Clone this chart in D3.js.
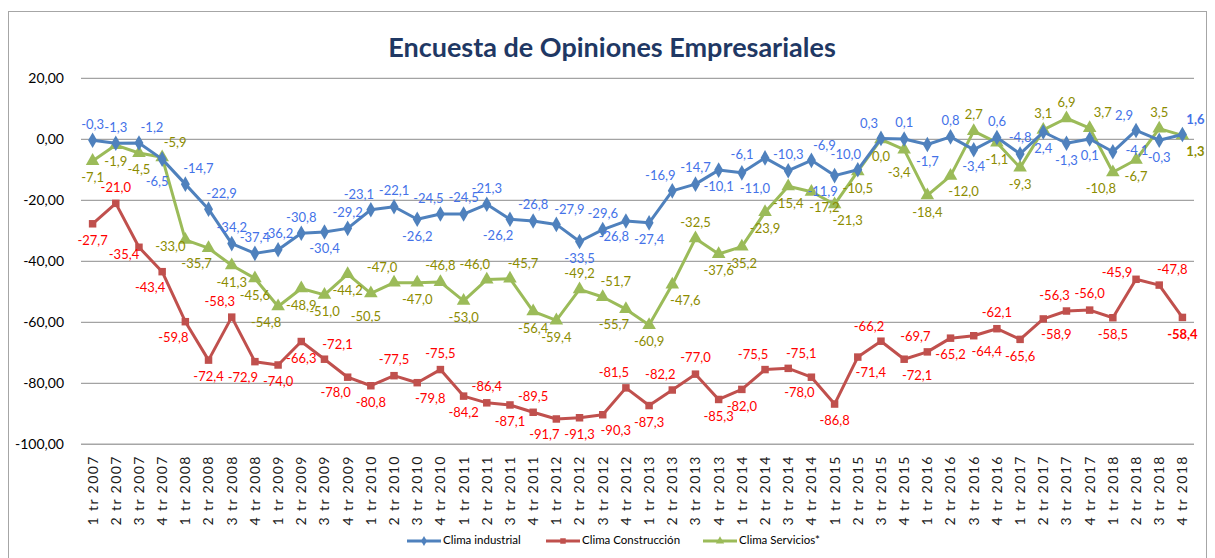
<!DOCTYPE html>
<html>
<head>
<meta charset="utf-8">
<script src="https://cdn.jsdelivr.net/npm/d3@7"></script>
<style>
  body { margin: 0; background: #fff; }
  text { font-family: Lato, "Open Sans", sans-serif; }
</style>
</head>
<body>
<div id="chart"></div>
<script>
// quarters 1 tr 2007 .. 4 tr 2018
const years = [2007, 2008, 2009, 2010, 2011, 2012, 2013, 2014, 2015, 2016, 2017, 2018];
const quarters = [];
years.forEach((y) => [1, 2, 3, 4].forEach((q) => quarters.push(q + ' tr ' + y)));

const climaIndustrial = [
  -0.3, -1.3, -1.2, -6.5, -14.7, -22.9, -34.2, -37.4, -36.2, -30.8, -30.4, -29.2,
  -23.1, -22.1, -26.2, -24.5, -24.5, -21.3, -26.2, -26.8, -27.9, -33.5, -29.6, -26.8,
  -27.4, -16.9, -14.7, -10.1, -11.0, -6.1, -10.3, -6.9, -11.9, -10.0, 0.3, 0.1,
  -1.7, 0.8, -3.4, 0.6, -4.8, 2.4, -1.3, 0.1, -4.1, 2.9, -0.3, 1.6
];
const climaConstruccion = [
  -27.7, -21.0, -35.4, -43.4, -59.8, -72.4, -58.3, -72.9, -74.0, -66.3, -72.1, -78.0,
  -80.8, -77.5, -79.8, -75.5, -84.2, -86.4, -87.1, -89.5, -91.7, -91.3, -90.3, -81.5,
  -87.3, -82.2, -77.0, -85.3, -82.0, -75.5, -75.1, -78.0, -86.8, -71.4, -66.2, -72.1,
  -69.7, -65.2, -64.4, -62.1, -65.6, -58.9, -56.3, -56.0, -58.5, -45.9, -47.8, -58.4
];
const climaServicios = [
  -7.1, -1.9, -4.5, -5.9, -33.0, -35.7, -41.3, -45.6, -54.8, -48.9, -51.0, -44.2,
  -50.5, -47.0, -47.0, -46.8, -53.0, -46.0, -45.7, -56.4, -59.4, -49.2, -51.7, -55.7,
  -60.9, -47.6, -32.5, -37.6, -35.2, -23.9, -15.4, -17.2, -21.3, -10.5, 0.0, -3.4,
  -18.4, -12.0, 2.7, -1.1, -9.3, 3.1, 6.9, 3.7, -10.8, -6.7, 3.5, 1.3
];
const yTicks = [20, 0, -20, -40, -60, -80, -100];

// where each data label sits around its point
const posIndustrial = 'a a ar bb ar ar a a a a b a al a b al a a bl a ar b a bl b al a b br l a ar bl al al a b a b a a b b b r al b ar'.split(' ');
const posConstruccion = 'b a lb bl bl b al bl b b ar bl b a br a b a b a bl b br al b al a b b al ar bl b br al br al b br a b br al a b L ar b'.split(' ');
const posServicios = 'b b b ar lb bl b b bl b b b bb al b a b al ar b b a ar bl b br a b b b b br br b b bb b br a b b a a ar bl b a br'.split(' ');

const series = [
  { name: 'Clima industrial', values: climaIndustrial, pos: posIndustrial, line: '#4F81BD', label: '#4472E8', marker: 'diamond' },
  { name: 'Clima Construcción', values: climaConstruccion, pos: posConstruccion, line: '#C0504D', label: '#FF0000', marker: 'square' },
  { name: 'Clima Servicios*', values: climaServicios, pos: posServicios, line: '#9BBB59', label: '#8C8C00', marker: 'triangle' }
];

const width = 1215;
const height = 558;
const margin = { top: 78.3, right: 21, bottom: 113.7, left: 81 };

const svg = d3.select('#chart')
  .append('svg')
  .attr('width', width)
  .attr('height', height);

// chart border
svg.append('rect')
  .attr('x', 8.5).attr('y', 11.5)
  .attr('width', 1198).attr('height', 560)
  .attr('fill', 'none')
  .attr('stroke', '#A6A6A6')
  .attr('stroke-width', 1);

svg.append('text')
  .attr('x', 612).attr('y', 57)
  .attr('text-anchor', 'middle')
  .attr('font-size', 27)
  .attr('font-weight', 'bold')
  .attr('fill', '#1F3864')
  .text('Encuesta de Opiniones Empresariales');

const x = d3.scaleBand()
  .domain(quarters)
  .range([margin.left, width - margin.right]);

const y = d3.scaleLinear()
  .domain([-100, 20])
  .range([height - margin.bottom, margin.top]);

const fmt = (v) => d3.format('.2f')(v).replace('.', ',').replace('−', '-');
const fmtLabel = (v) => d3.format('.1f')(v).replace('.', ',').replace('−', '-');

// gridlines
svg.append('g')
  .selectAll('line')
  .data(yTicks)
  .enter()
  .append('line')
  .attr('x1', margin.left)
  .attr('x2', width - margin.right)
  .attr('y1', (d) => y(d))
  .attr('y2', (d) => y(d))
  .attr('stroke', (d) => (d === -100 ? '#A6A6A6' : '#8C8C8C'))
  .attr('stroke-width', (d) => (d === -100 ? 1.5 : 1));

// y axis labels
const yAxis = svg.append('g')
  .attr('transform', `translate(${margin.left - 14},0)`)
  .call(d3.axisLeft(y).tickValues(yTicks).tickFormat(fmt).tickSize(0));
yAxis.select('.domain').remove();
yAxis.selectAll('text')
  .attr('font-size', 14)
  .attr('font-family', 'Lato, sans-serif')
  .attr('fill', '#000');

// x axis labels
const xAxis = svg.append('g')
  .attr('transform', `translate(0,${height - margin.bottom})`)
  .call(d3.axisBottom(x).tickSize(0));
xAxis.select('.domain').remove();
xAxis.selectAll('text')
  .attr('font-size', 14)
  .attr('font-family', 'Lato, sans-serif')
  .attr('letter-spacing', 1.4)
  .attr('fill', '#1a1a1a')
  .attr('text-anchor', 'end')
  .attr('dy', '0.35em')
  .attr('transform', 'translate(0,11) rotate(-90)')
  .attr('x', 0)
  .attr('y', 0);

const cx = (i) => x(quarters[i]) + x.bandwidth() / 2;

const symbols = {
  diamond: d3.symbol().type(d3.symbolDiamond).size(70),
  square: d3.symbol().type(d3.symbolSquare).size(56),
  triangle: d3.symbol().type(d3.symbolTriangle).size(80)
};

const offsets = {
  a: [0, -15], b: [0, 18], bb: [-5, 24], l: [-23, -2], r: [24, 0],
  lb: [-15, 8], L: [-19, -6],
  al: [-12, -14], ar: [13, -14], bl: [-12, 17], br: [13, 17]
};

// draw red first, then green, then blue on top
[series[1], series[2], series[0]].forEach((s) => {
  const line = d3.line()
    .x((d, i) => cx(i))
    .y((d) => y(d));

  svg.append('path')
    .datum(s.values)
    .attr('d', line)
    .attr('fill', 'none')
    .attr('stroke', s.line)
    .attr('stroke-width', 3)
    .attr('stroke-linejoin', 'round');

  svg.append('g')
    .selectAll('path')
    .data(s.values)
    .enter()
    .append('path')
    .attr('d', symbols[s.marker])
    .attr('transform', (d, i) => `translate(${cx(i)},${y(d)})`)
    .attr('fill', s.line);
});

series.forEach((s) => {
  svg.append('g')
    .selectAll('text')
    .data(s.values)
    .enter()
    .append('text')
    .attr('x', (d, i) => cx(i) + offsets[s.pos[i]][0])
    .attr('y', (d, i) => y(d) + offsets[s.pos[i]][1])
    .attr('text-anchor', 'middle')
    .attr('dominant-baseline', 'middle')
    .attr('font-size', 13)
    .attr('font-weight', (d, i) => (i === s.values.length - 1 ? 'bold' : 'normal'))
    .attr('fill', s.label)
    .text((d) => fmtLabel(d));
});

// legend
const legendX = [407, 546, 703];
const legend = svg.append('g');
series.forEach((s, k) => {
  const g = legend.append('g').attr('transform', `translate(${legendX[k]},541)`);
  g.append('line')
    .attr('x1', 0).attr('x2', 34)
    .attr('stroke', s.line)
    .attr('stroke-width', 3);
  g.append('path')
    .attr('d', d3.symbol().type(s.marker === 'diamond' ? d3.symbolDiamond
      : s.marker === 'square' ? d3.symbolSquare : d3.symbolTriangle).size(30))
    .attr('transform', 'translate(17,0)')
    .attr('fill', s.line);
  g.append('text')
    .attr('x', 36)
    .attr('y', 0)
    .attr('dominant-baseline', 'middle')
    .attr('font-size', 11.5)
    .attr('fill', '#000')
    .text(s.name);
});
</script>
</body>
</html>
